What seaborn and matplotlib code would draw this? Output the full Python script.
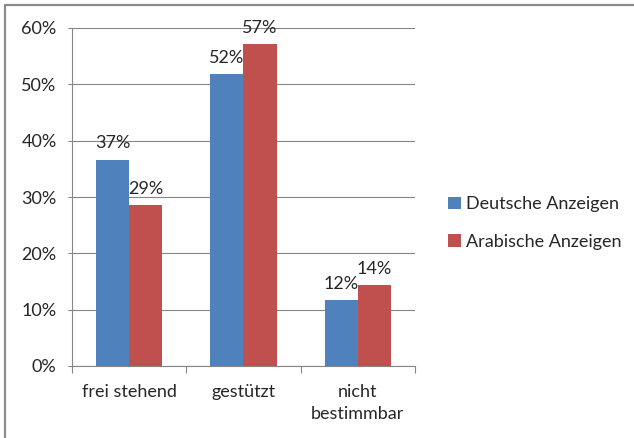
import matplotlib
matplotlib.use("Agg")
import matplotlib.pyplot as plt
from matplotlib.lines import Line2D
from matplotlib.patches import Patch
from matplotlib.ticker import FixedLocator, PercentFormatter
import seaborn as sns
import pandas as pd

categories = ["frei stehend", "gestützt", "nicht\nbestimmbar"]
series_names = ["Deutsche Anzeigen", "Arabische Anzeigen"]
deutsche = [36.6, 51.8, 11.7]
arabische = [28.6, 57.1, 14.3]
colors = ["#4F81BD", "#C0504D"]
y_ticks = [0, 10, 20, 30, 40, 50, 60]

df = pd.DataFrame({
    "Kategorie": categories * 2,
    "Serie": [series_names[0]] * 3 + [series_names[1]] * 3,
    "Anteil": deutsche + arabische,
})

sns.set_theme(style="white")
plt.rcParams["font.family"] = ["Lato", "DejaVu Sans"]
text_color = "#262626"
axis_color = "#868686"
fs = 13

fig = plt.figure(figsize=(6.34, 4.38), dpi=100)
ax = fig.add_axes([72 / 634, 1 - 366 / 438, (415 - 72) / 634, (366 - 28) / 438])

sns.barplot(data=df, x="Kategorie", y="Anteil", hue="Serie",
            palette=colors, width=0.58, ax=ax, legend=False,
            saturation=1, linewidth=0)

# value labels above each bar
for container in ax.containers:
    ax.bar_label(container, labels=[f"{v:.0f}%" for v in container.datavalues],
                 padding=6, fontsize=fs, color=text_color)

ax.set_ylim(0, 60)
ax.set_xlim(-0.5, 2.5)
ax.set_yticks(y_ticks)
ax.yaxis.set_major_formatter(PercentFormatter(decimals=0))
ax.grid(axis="y", color=axis_color, linewidth=0.8)
ax.set_axisbelow(True)
ax.set_xlabel("")
ax.set_ylabel("")

for side in ["top", "right"]:
    ax.spines[side].set_visible(False)
for side in ["left", "bottom"]:
    ax.spines[side].set_color(axis_color)
    ax.spines[side].set_linewidth(0.8)

ax.tick_params(axis="y", which="major", length=3, color=axis_color, width=0.8,
               labelsize=fs, labelcolor=text_color, pad=8, left=True)
ax.tick_params(axis="x", which="major", length=0, labelsize=fs,
               labelcolor=text_color, pad=13)
ax.xaxis.set_minor_locator(FixedLocator([-0.5, 0.5, 1.5, 2.5]))
ax.tick_params(axis="x", which="minor", length=5, color=axis_color, width=0.8,
               bottom=True)
for lbl in ax.get_xticklabels():
    lbl.set_linespacing(1.45)

handles = [Patch(facecolor=c, edgecolor="none") for c in colors]
fig.legend(handles, series_names, loc="center left",
           bbox_to_anchor=(432 / 634, 1 - 223 / 438), frameon=False,
           fontsize=fs, labelcolor=text_color, handlelength=0.7,
           handleheight=0.7, handletextpad=0.3, labelspacing=1.2)

# chart-area frame (top and left edges)
fig.add_artist(Line2D([5 / 634, 5 / 634], [0, 1 - 5 / 438], color="#8c8c8c",
                      linewidth=1.6, transform=fig.transFigure))
fig.add_artist(Line2D([5 / 634, 1], [1 - 5 / 438, 1 - 5 / 438], color="#8c8c8c",
                      linewidth=1.6, transform=fig.transFigure))

fig.savefig("out.png", dpi=100, facecolor="white")
